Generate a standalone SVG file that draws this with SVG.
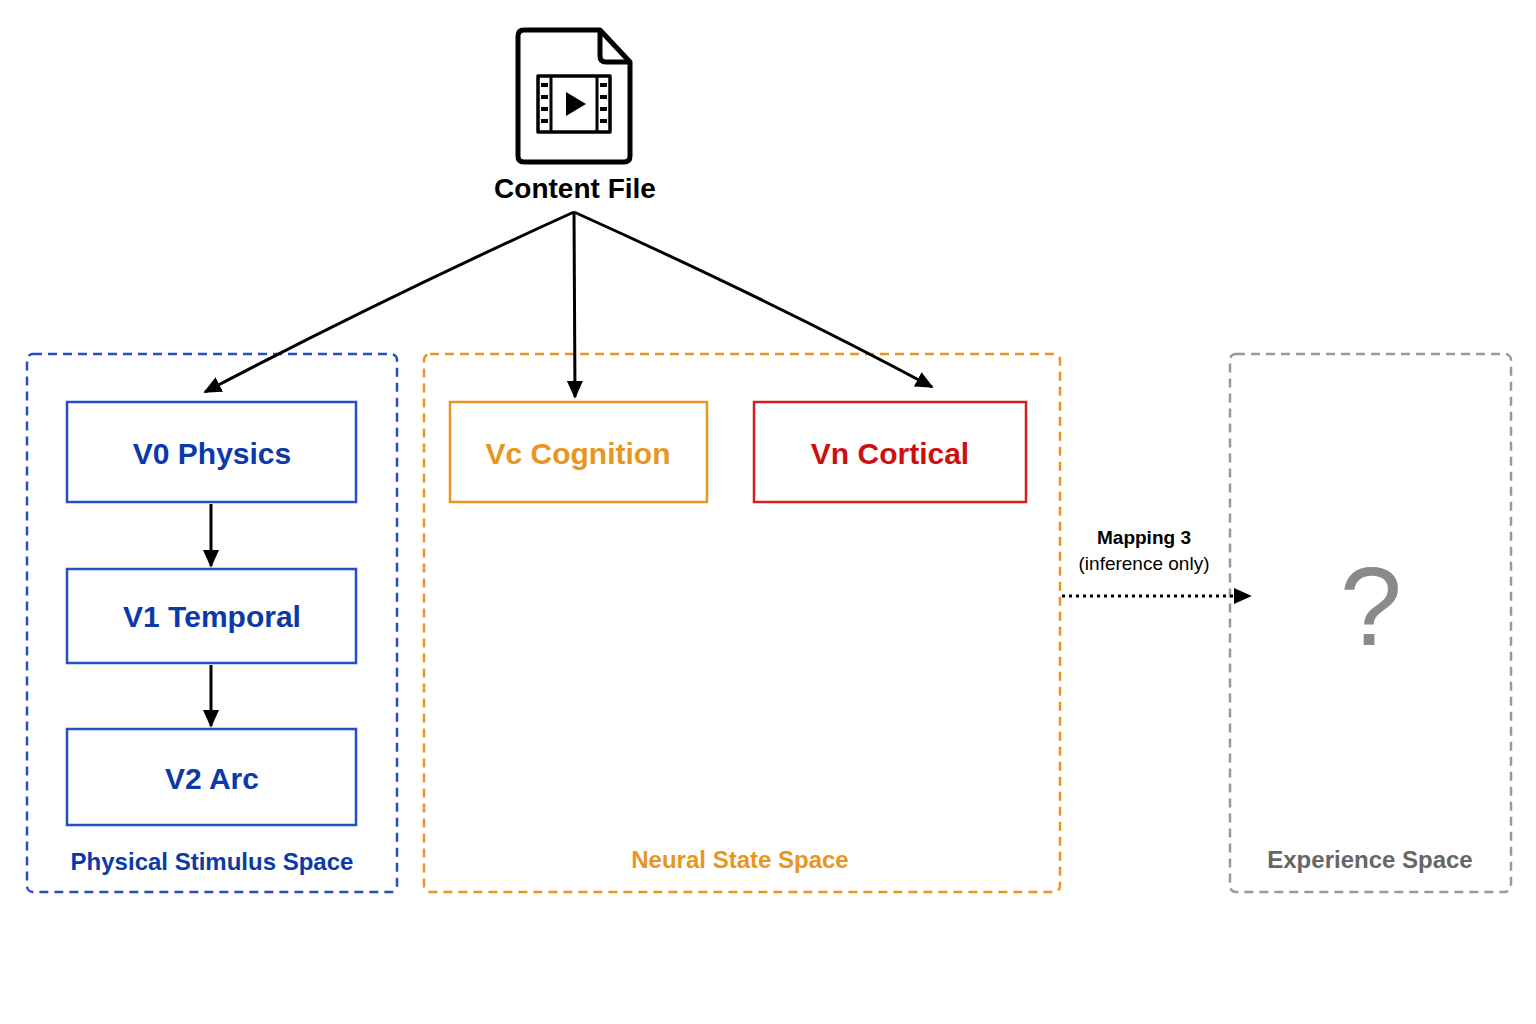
<svg xmlns="http://www.w3.org/2000/svg" width="1536" height="1024" viewBox="0 0 1536 1024">
<style>
text{font-family:"Liberation Sans",Arial,sans-serif;text-anchor:middle}
.t{font-size:30px;font-weight:bold}
.s{font-size:24px;font-weight:bold}
.c{fill:none;stroke:#000;stroke-width:3}
</style>
<defs>
<marker id="a" viewBox="0 0 10 10" refX="9" refY="5" markerWidth="18" markerHeight="18" markerUnits="userSpaceOnUse" orient="auto"><path d="M0,0.5L10,5L0,9.5z" fill="#000"/></marker>
</defs>
<rect width="1536" height="1024" fill="#fff"/>
<g id="physical-space"><rect x="27" y="354" width="370" height="538" rx="6" fill="none" stroke="#1f4fc9" stroke-width="2.5" stroke-dasharray="9,6"/><text x="212" y="870" class="s" fill="#0b3aa8">Physical Stimulus Space</text></g>
<g id="neural-space"><rect x="424" y="354" width="636" height="538" rx="6" fill="none" stroke="#e8961e" stroke-width="2.5" stroke-dasharray="9,6"/><text x="740" y="868" class="s" fill="#e8961e">Neural State Space</text></g>
<g id="experience-space"><rect x="1230" y="354" width="281" height="538" rx="6" fill="none" stroke="#999" stroke-width="2.5" stroke-dasharray="9,6"/><text x="1370" y="868" class="s" fill="#666">Experience Space</text><text x="1371" y="645" font-size="112" fill="#8a8a8a">?</text></g>
<g id="content-file" fill="none" stroke="#000" stroke-width="5" stroke-linejoin="round">
<path d="M524,30H600L630,62V156Q630,162 624,162H524Q518,162 518,156V36Q518,30 524,30Z"/>
<path d="M600,30V56Q600,62 606,62H630"/>
<rect x="538" y="76" width="72" height="56" stroke-width="3.5"/>
<path d="M551,76V132M597,76V132" stroke-width="3"/>
<path d="M566,92L586,104L566,116Z" fill="#000" stroke="none"/>
<g fill="#000" stroke="none"><rect x="541" y="83" width="7" height="4"/><rect x="541" y="95" width="7" height="4"/><rect x="541" y="107" width="7" height="4"/><rect x="541" y="119" width="7" height="4"/><rect x="600" y="83" width="7" height="4"/><rect x="600" y="95" width="7" height="4"/><rect x="600" y="107" width="7" height="4"/><rect x="600" y="119" width="7" height="4"/></g>
<text x="575" y="198" fill="#000" stroke="none" style="font-size:28px;font-weight:bold">Content File</text>
</g>
<g id="v0"><rect x="67" y="402" width="289" height="100" fill="#fff" stroke="#1f4fc9" stroke-width="2.5"/><text x="212" y="464" class="t" fill="#0b3aa8">V0 Physics</text></g>
<g id="v1"><rect x="67" y="569" width="289" height="94" fill="#fff" stroke="#1f4fc9" stroke-width="2.5"/><text x="212" y="627" class="t" fill="#0b3aa8">V1 Temporal</text></g>
<g id="v2"><rect x="67" y="729" width="289" height="96" fill="#fff" stroke="#1f4fc9" stroke-width="2.5"/><text x="212" y="789" class="t" fill="#0b3aa8">V2 Arc</text></g>
<g id="vc"><rect x="450" y="402" width="257" height="100" fill="#fff" stroke="#e8961e" stroke-width="2.5"/><text x="578" y="464" class="t" fill="#e8961e">Vc Cognition</text></g>
<g id="vn"><rect x="754" y="402" width="272" height="100" fill="#fff" stroke="#d81f1f" stroke-width="2.5"/><text x="890" y="464" class="t" fill="#cc1010">Vn Cortical</text></g>
<g id="connectors">
<path class="c" d="M574,212Q380,300 205,392" marker-end="url(#a)"/>
<path class="c" d="M574,212L575,397" marker-end="url(#a)"/>
<path class="c" d="M574,212Q780,305 932,387" marker-end="url(#a)"/>
<path class="c" d="M211,504V566" marker-end="url(#a)"/>
<path class="c" d="M211,665V726" marker-end="url(#a)"/>
<path d="M1062,596H1250" fill="none" stroke="#000" stroke-width="3" stroke-dasharray="3,4" marker-end="url(#a)"/>
<text x="1144" y="544" font-size="19" font-weight="bold">Mapping 3</text>
<text x="1144" y="570" font-size="19">(inference only)</text>
</g>
</svg>
